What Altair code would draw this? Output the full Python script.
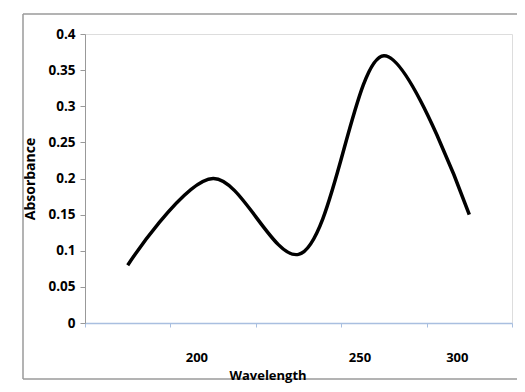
import altair as alt
import pandas as pd

# Excel-style category axis: 5 categories, data at category centres
categories = [0.5, 1.5, 2.5, 3.5, 4.5]
absorbance = [0.08, 0.20, 0.095, 0.37, 0.15]

# x tick labels as printed, with their position on the category axis
tick_labels = ["200", "250", "300"]
tick_label_pos = [1.31, 3.22, 4.36]
tick_marks = [0, 1, 2, 3, 4, 5]

df = pd.DataFrame({"cat": categories, "Absorbance": absorbance})
lab = pd.DataFrame({"pos": tick_label_pos, "label": tick_labels})

FONT = "Open Sans"
W, H = 427, 289

xscale = alt.Scale(domain=[0, 5], nice=False, zero=False)

line = alt.Chart(df).mark_line(
    color="black", strokeWidth=3.5, interpolate="catmull-rom"
).encode(
    x=alt.X("cat:Q", scale=xscale,
            axis=alt.Axis(values=tick_marks, labels=False, title=None, grid=False,
                          domainColor="#a9bfe0", tickColor="#a9bfe0", tickSize=4,
                          domainWidth=1.5)),
    y=alt.Y("Absorbance:Q",
            scale=alt.Scale(domain=[0, 0.4], nice=False),
            axis=alt.Axis(values=[0, 0.05, 0.1, 0.15, 0.2, 0.25, 0.3, 0.35, 0.4],
                          format="~g", grid=False, domainColor="#999999",
                          tickColor="#999999", tickSize=5, labelPadding=5,
                          labelFont=FONT, labelFontSize=13.5, labelFontWeight="bold",
                          labelColor="black",
                          title="Absorbance", titleFont=FONT, titleFontSize=14,
                          titleFontWeight="bold", titleColor="black",
                          titlePadding=10)),
)

labels = alt.Chart(lab).mark_text(
    font=FONT, fontSize=13, fontWeight="bold", color="black", baseline="middle"
).encode(
    x=alt.X("pos:Q", scale=xscale),
    y=alt.value(H + 35),
    text="label:N",
)

xtitle = alt.Chart(pd.DataFrame({"t": ["Wavelength"]})).mark_text(
    font=FONT, fontSize=13, fontWeight="bold", color="black", baseline="middle"
).encode(
    x=alt.value(183), y=alt.value(H + 53), text="t:N"
)

one = pd.DataFrame({"a": [0]})
frame_style = dict(color="#9a9a9a", strokeWidth=1.5, clip=False)
frame_top = alt.Chart(one).mark_rule(**frame_style).encode(
    x=alt.value(-62), x2=alt.value(440), y=alt.value(-20))
frame_bottom = alt.Chart(one).mark_rule(**frame_style).encode(
    x=alt.value(-62), x2=alt.value(440), y=alt.value(345))
frame_left = alt.Chart(one).mark_rule(**frame_style).encode(
    x=alt.value(-62), y=alt.value(-20), y2=alt.value(345))

chart = alt.layer(frame_top, frame_bottom, frame_left, line, labels, xtitle).properties(
    width=W, height=H,
    autosize=alt.AutoSizeParams(type="none"),
    padding={"left": 77, "top": 26, "right": 5, "bottom": 61},
).configure_view(stroke=None).configure(background="white")

chart.save("out.html", embed_options={"renderer": "svg", "actions": False})
